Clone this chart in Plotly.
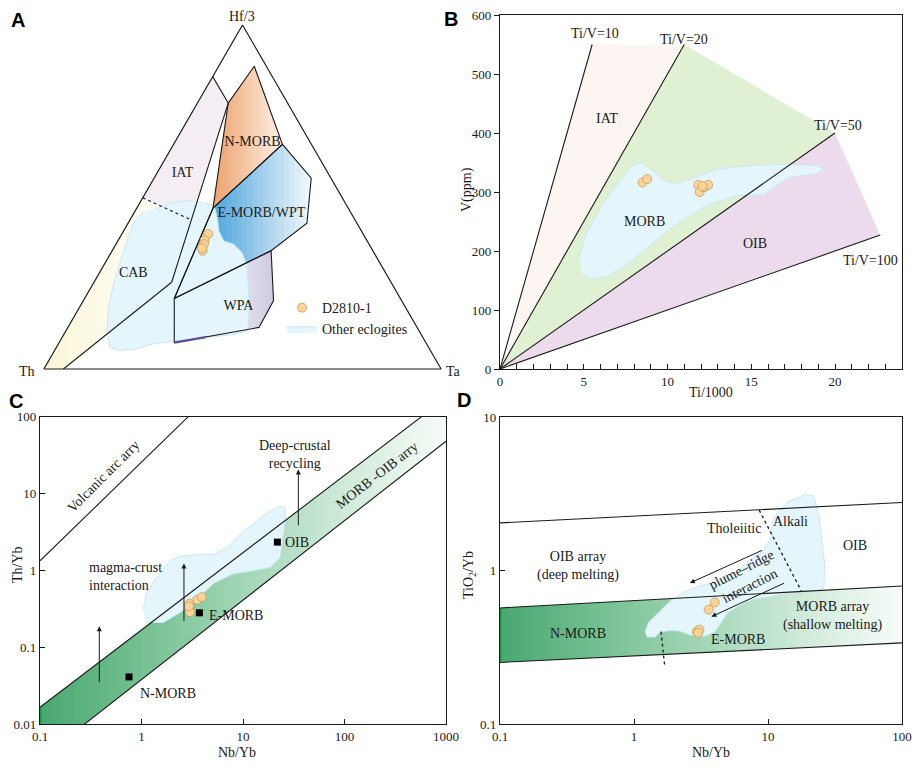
import math
import plotly.graph_objects as go

SERIF = "Liberation Serif"
SANS = "Liberation Sans"
INK = "#1a1a1a"

# ---------------- Panel A : Hf/3 - Th - Ta ternary (a = Hf/3, b = Th, c = Ta) ----------------
A_NMORB = [(0.773, 0.1495, 0.0775), (0.880, 0.0304, 0.0896), (0.653, 0.073, 0.274), (0.4675, 0.3405, 0.192)]
A_EMORB = [(0.4675, 0.3405, 0.192), (0.653, 0.073, 0.274), (0.5547, 0.0496, 0.3957),
           (0.4237, 0.126, 0.4503), (0.3438, 0.2561, 0.4001), (0.2052, 0.5692, 0.2256)]
A_WPA = [(0.2052, 0.5692, 0.2256), (0.3438, 0.2561, 0.4001), (0.1988, 0.3224, 0.4788),
         (0.1209, 0.3981, 0.481), (0.0768, 0.6333, 0.2899)]
A_IAT = [(0.85, 0.15, 0.0), (0.773, 0.1495, 0.0775), (0.433, 0.4117, 0.1553), (0.4976, 0.5024, 0.0)]
A_CAB = [(0.4976, 0.5024, 0.0), (0.433, 0.4117, 0.1553), (0.2522, 0.5522, 0.1956),
         (0.0, 0.9508, 0.0492), (0.0, 1.0, 0.0)]
A_LINE_TOP = [(0.85, 0.15, 0.0), (0.773, 0.1495, 0.0775)]
A_LINE_IAT = [(0.773, 0.1495, 0.0775), (0.2522, 0.5522, 0.1956)]
A_LINE_CAB = [(0.0, 0.9508, 0.0492), (0.2522, 0.5522, 0.1956)]
A_LINE_WPT = [(0.4675, 0.3405, 0.192), (0.2052, 0.5692, 0.2256)]
A_LINE_DOT = [(0.4976, 0.5024, 0.0), (0.433, 0.4117, 0.1553)]
A_WPA_BASE = [(0.0768, 0.6333, 0.2899), (0.0928, 0.5457, 0.3615)]
A_BLOB = [(0.4658, 0.4865, 0.0477), (0.4844, 0.4278, 0.0878), (0.4892, 0.3924, 0.1184),
          (0.4844, 0.3621, 0.1535), (0.4751, 0.334, 0.1909), (0.4377, 0.3445, 0.2178),
          (0.4001, 0.3592, 0.2407), (0.3719, 0.3611, 0.267), (0.3627, 0.341, 0.2963),
          (0.3393, 0.3322, 0.3285), (0.3064, 0.3363, 0.3573), (0.2409, 0.3651, 0.394),
          (0.1751, 0.3955, 0.4294), (0.1237, 0.4238, 0.4525), (0.1096, 0.4349, 0.4555),
          (0.1004, 0.4724, 0.4272), (0.0815, 0.6294, 0.2891), (0.0723, 0.6915, 0.2362),
          (0.0582, 0.7395, 0.2023), (0.0534, 0.7827, 0.1639), (0.0627, 0.8027, 0.1346),
          (0.1096, 0.7861, 0.1043), (0.1751, 0.7506, 0.0743), (0.2409, 0.7055, 0.0536),
          (0.3064, 0.6562, 0.0374), (0.3627, 0.6117, 0.0256), (0.4189, 0.5671, 0.014),
          (0.4563, 0.5238, 0.0199)]
A_SAMPLES = [(0.3927, 0.39, 0.2173), (0.3739, 0.4083, 0.2178), (0.3627, 0.4156, 0.2217),
             (0.3438, 0.4283, 0.2279), (0.3514, 0.4262, 0.2224)]
A_LABELS = ["N-MORB", "IAT", "E-MORB/WPT", "CAB", "WPA"]
A_LABEL_POS = [(0.6579, 0.1457, 0.1964), (0.5687, 0.3666, 0.0647), (0.4518, 0.2266, 0.3216),
               (0.2783, 0.6358, 0.0859), (0.1827, 0.4189, 0.3984)]
A_APEX_NAMES = ["Hf/3", "Th", "Ta"]

# ---------------- Panel B : Ti/1000 vs V ----------------
B_TIV_RATIO = [10, 20, 50, 100]
B_TIV_XEND = [5.5, 11.0, 20.0, 22.7]
B_TIV_LABEL_X = [5.7, 11.0, 20.16, 22.1]
B_TIV_LABEL_Y = [569, 558, 412, 184]
B_IAT_X = [0, 5.5, 11.0]
B_IAT_Y = [0, 550, 550]
B_MORB_X = [0, 11.0, 20.0]
B_MORB_Y = [0, 550, 400]
B_OIB_X = [0, 20.0, 22.7]
B_OIB_Y = [0, 400, 227]
B_BLOB_X = [4.72, 5.11, 6.10, 7.28, 7.87, 8.46, 9.24, 9.64, 10.42, 11.41, 12.98, 14.95, 17.31, 18.88,
            19.37, 18.88, 17.31, 16.52, 15.73, 14.35, 13.37, 12.39, 11.41, 10.22, 9.04, 7.87, 6.49, 5.51, 4.92]
B_BLOB_Y = [188, 227, 278, 322, 345, 350, 334, 322, 314, 322, 339, 345, 347, 345,
            339, 331, 325, 311, 295, 295, 286, 278, 261, 239, 211, 183, 158, 152, 160]
B_SAMPLE_X = [8.51, 8.79, 11.84, 11.92, 12.19, 12.43, 12.09]
B_SAMPLE_Y = [316, 322, 312, 300, 308, 312, 310]
B_FIELD_LABELS = ["IAT", "MORB", "OIB"]
B_FIELD_X = [6.39, 8.6, 15.2]
B_FIELD_Y = [424, 250, 212]

# ---------------- Panel C : Nb/Yb vs Th/Yb ----------------
C_UPPER = [(0.1, 0.0165), (1000, 175)]
C_LOWER = [(0.1, 0.0035), (1000, 48)]
C_ARC = [(0.1, 1.33), (2.89, 100)]
C_BLOB_X = [1.04, 1.12, 1.41, 1.91, 2.39, 3.77, 5.09, 6.90, 10.1, 15.8, 21.5, 25.9, 25.9, 24.6,
            23.2, 18.5, 12.6, 8.02, 5.09, 3.77, 2.39, 1.64, 1.12]
C_BLOB_Y = [0.309, 0.50, 0.815, 1.33, 1.53, 1.61, 1.61, 1.95, 3.18, 5.17, 6.59, 6.79, 4.26, 2.38,
            1.46, 1.09, 0.987, 0.90, 0.673, 0.455, 0.281, 0.21, 0.21]
C_SAMPLE_X = [2.96, 2.96, 3.0, 3.55, 3.92, 2.94]
C_SAMPLE_Y = [0.368, 0.315, 0.286, 0.414, 0.448, 0.341]
C_REF_NAMES = ["N-MORB", "E-MORB", "OIB"]
C_REF_X = [0.753, 3.72, 21.8]
C_REF_Y = [0.041, 0.28, 2.33]
C_REF_LABEL_X = [1.81, 8.47, 33.8]
C_REF_LABEL_Y = [0.0252, 0.26, 2.33]
C_ARROW_X = [0.384, 2.62, 35.1]
C_ARROW_Y0 = [0.0337, 0.209, 3.68]
C_ARROW_Y1 = [0.187, 1.23, 20.6]

# ---------------- Panel D : Nb/Yb vs TiO2/Yb ----------------
D_OIB_LINE = [(0.1, 2.05), (100, 2.78)]
D_UPPER = [(0.1, 0.571), (100, 0.795)]
D_LOWER = [(0.1, 0.252), (100, 0.338)]
D_DOT1 = [(8.59, 2.48), (17.7, 0.740)]
D_DOT2 = [(1.59, 0.40), (1.69, 0.244)]
D_BLOB_X = [1.21, 1.28, 1.52, 1.91, 2.40, 3.18, 4.23, 5.94, 7.45, 9.35, 10.5, 10.8, 11.7, 13.9, 19.0,
            21.9, 23.9, 25.3, 26.7, 26.0, 23.2, 18.5, 13.9, 9.91, 7.45, 5.94, 5.01, 4.47, 4.0, 3.37,
            2.69, 2.14, 1.80, 1.57, 1.44, 1.25]
D_BLOB_Y = [0.397, 0.459, 0.531, 0.645, 0.728, 0.803, 0.843, 1.0, 1.19, 1.37, 1.63, 2.07, 2.40, 2.78, 3.14,
            3.06, 2.29, 1.55, 1.05, 0.766, 0.74, 0.74, 0.711, 0.678, 0.645, 0.585, 0.531, 0.459, 0.397, 0.374,
            0.378, 0.406, 0.406, 0.397, 0.369, 0.369]
D_SAMPLE_X = [3.61, 4.0, 2.94, 3.08, 3.01]
D_SAMPLE_Y = [0.557, 0.621, 0.40, 0.412, 0.393]
D_ARROW_TAIL = [(9.25, 1.37), (13.5, 0.836)]
D_ARROW_HEAD = [(2.61, 0.83), (3.78, 0.501)]
D_LABELS = ["OIB array<br>(deep melting)", "N-MORB", "E-MORB", "MORB array<br>(shallow melting)",
            "Tholeiitic", "Alkali", "OIB"]
D_LABEL_X = [0.38, 0.38, 5.94, 30.3, 5.61, 14.7, 44.5]
D_LABEL_Y = [1.08, 0.387, 0.356, 0.506, 1.88, 2.10, 1.46]

# ---------------- styles ----------------
SAMPLE_FILL = "rgb(250,212,152)"
SAMPLE_EDGE = "rgb(200,155,95)"
BLOB_FILL = "rgb(228,246,252)"
BLOB_EDGE = "rgb(200,232,244)"
GREEN_STOPS = [(0, (72, 168, 112)), (0.25, (118, 192, 146)), (0.5, (162, 214, 182)),
               (0.75, (207, 234, 217)), (1, (248, 252, 249))]
NMORB_STOPS = [(0, (236, 160, 110)), (0.5, (245, 200, 165)), (1, (253, 240, 232))]
EMORB_STOPS = [(0, (70, 160, 218)), (0.35, (90, 172, 224)), (0.7, (175, 213, 238)), (1, (240, 248, 252))]
WPA_STOPS = [(0, (245, 245, 250)), (0.6, (234, 231, 242)), (1, (208, 202, 226))]
CAB_STOPS = [(0, (250, 247, 215)), (0.6, (253, 252, 240)), (1, (255, 255, 255))]

# page layout helpers: the page body keeps an 8 px margin round the figure,
# so the figure is sized to fit the 920x769 window without scrollbars.
OFF = 8
FW, FH = 920 - 2 * OFF, 769 - 2 * OFF


def px(p):
    return (p - OFF) / FW


def py(p):
    return 1 - (p - OFF) / FH


def color_at(stops, t):
    for (t0, c0), (t1, c1) in zip(stops[:-1], stops[1:]):
        if t <= t1:
            f = (t - t0) / (t1 - t0) if t1 > t0 else 0
            return "rgb(%d,%d,%d)" % tuple(round(c0[k] + f * (c1[k] - c0[k])) for k in range(3))
    return "rgb(%d,%d,%d)" % stops[-1][1]


def tern(pts, **kw):
    return go.Scatterternary(a=[p[0] for p in pts], b=[p[1] for p in pts], c=[p[2] for p in pts],
                             subplot="ternary", hoverinfo="skip", **kw)


def clip_half(pts, lim, keep_greater):
    out = []
    for i in range(len(pts)):
        cur, prev = pts[i], pts[i - 1]
        cin = cur[0] >= lim if keep_greater else cur[0] <= lim
        pin = prev[0] >= lim if keep_greater else prev[0] <= lim
        if cin != pin:
            t = (lim - prev[0]) / (cur[0] - prev[0])
            out.append((lim, prev[1] + t * (cur[1] - prev[1])))
        if cin:
            out.append(cur)
    return out


def tern_gradient(poly, stops, n=26):
    pts = [(c + a / 2.0, a) for a, b, c in poly]
    xs = [p[0] for p in pts]
    x0, x1 = min(xs), max(xs)
    traces = []
    for i in range(n):
        lo = x0 + (x1 - x0) * i / n - 0.002
        hi = x0 + (x1 - x0) * (i + 1) / n + 0.002
        cl = clip_half(clip_half(pts, lo, True), hi, False)
        if len(cl) < 3:
            continue
        tri = []
        for x, a in cl:
            c = max(0.0, x - a / 2.0)
            b = max(0.0, 1 - a - c)
            tri.append((a, b, c))
        traces.append(tern(tri, mode="lines", fill="toself", line=dict(width=0),
                           fillcolor=color_at(stops, (i + 0.5) / n), showlegend=False))
    return traces


def loglog_line(p0, p1):
    lx0, ly0, lx1, ly1 = math.log10(p0[0]), math.log10(p0[1]), math.log10(p1[0]), math.log10(p1[1])
    return lambda lx: ly0 + (ly1 - ly0) * (lx - lx0) / (lx1 - lx0)


def band_gradient(upper, lower, stops, xa, ya, n=60):
    fu, fl = loglog_line(*upper), loglog_line(*lower)
    l0, l1 = math.log10(upper[0][0]), math.log10(upper[1][0])
    step = (l1 - l0) / n
    traces = []
    for i in range(n):
        a = l0 + i * step
        b = min(l1, a + step * 1.3)
        xs = [10 ** a, 10 ** b, 10 ** b, 10 ** a]
        ys = [10 ** fu(a), 10 ** fu(b), 10 ** fl(b), 10 ** fl(a)]
        traces.append(go.Scatter(x=xs, y=ys, mode="lines", fill="toself", line=dict(width=0),
                                 fillcolor=color_at(stops, (i + 0.5) / n), xaxis=xa, yaxis=ya,
                                 hoverinfo="skip", showlegend=False))
    return traces


def line_xy(pts, xa, ya, dash="solid", width=1.1, color=INK):
    return go.Scatter(x=[p[0] for p in pts], y=[p[1] for p in pts], mode="lines",
                      line=dict(color=color, width=width, dash=dash), xaxis=xa, yaxis=ya,
                      hoverinfo="skip", showlegend=False)


fig = go.Figure()

# ---------- A ----------
for tr in tern_gradient(A_CAB, CAB_STOPS):
    fig.add_trace(tr)
fig.add_trace(tern(A_IAT, mode="lines", fill="toself", line=dict(width=0), fillcolor="rgb(244,238,244)",
                   showlegend=False))
for poly, st in [(A_NMORB, NMORB_STOPS), (A_EMORB, EMORB_STOPS), (A_WPA, WPA_STOPS)]:
    for tr in tern_gradient(poly, st):
        fig.add_trace(tr)
fig.add_trace(tern(A_BLOB, mode="lines", fill="toself", line=dict(width=1, color=BLOB_EDGE),
                   fillcolor=BLOB_FILL, name="Other eclogites", legendrank=2, showlegend=True))
for poly in [A_NMORB, A_EMORB, A_WPA]:
    fig.add_trace(tern(poly + [poly[0]], mode="lines", line=dict(color=INK, width=1.1), showlegend=False))
for ln in [A_LINE_TOP, A_LINE_IAT, A_LINE_CAB, A_LINE_WPT]:
    fig.add_trace(tern(ln, mode="lines", line=dict(color=INK, width=1.1), showlegend=False))
fig.add_trace(tern(A_LINE_DOT, mode="lines", line=dict(color=INK, width=1.2, dash="dot"), showlegend=False))
fig.add_trace(tern(A_WPA_BASE, mode="lines", line=dict(color="rgb(95,80,150)", width=2.2), showlegend=False))
fig.add_trace(tern(A_SAMPLES, mode="markers", name="D2810-1", legendrank=1, showlegend=True,
                   marker=dict(size=9, color=SAMPLE_FILL, line=dict(color=SAMPLE_EDGE, width=0.8))))
fig.add_trace(tern(A_LABEL_POS, mode="text", text=A_LABELS, showlegend=False,
                   textfont=dict(family=SERIF, size=14, color=INK)))

# ---------- B ----------
fig.add_trace(go.Scatter(x=B_IAT_X, y=B_IAT_Y, fill="toself", mode="lines", line=dict(width=0),
                         fillcolor="rgb(253,245,241)", xaxis="x", yaxis="y", hoverinfo="skip", showlegend=False))
fig.add_trace(go.Scatter(x=B_MORB_X, y=B_MORB_Y, fill="toself", mode="lines", line=dict(width=0),
                         fillcolor="rgb(224,241,211)", xaxis="x", yaxis="y", hoverinfo="skip", showlegend=False))
fig.add_trace(go.Scatter(x=B_OIB_X, y=B_OIB_Y, fill="toself", mode="lines", line=dict(width=0),
                         fillcolor="rgb(236,219,236)", xaxis="x", yaxis="y", hoverinfo="skip", showlegend=False))
fig.add_trace(go.Scatter(x=B_BLOB_X, y=B_BLOB_Y, fill="toself", mode="lines", line=dict(width=1, color=BLOB_EDGE),
                         fillcolor=BLOB_FILL, xaxis="x", yaxis="y", hoverinfo="skip", showlegend=False))
for r, xe in zip(B_TIV_RATIO, B_TIV_XEND):
    fig.add_trace(line_xy([(0, 0), (xe, xe * 1000.0 / r)], "x", "y"))
fig.add_trace(go.Scatter(x=B_SAMPLE_X, y=B_SAMPLE_Y, mode="markers", xaxis="x", yaxis="y", showlegend=False,
                         marker=dict(size=9, color=SAMPLE_FILL, line=dict(color=SAMPLE_EDGE, width=0.8))))

# ---------- C ----------
for tr in band_gradient(C_UPPER, C_LOWER, GREEN_STOPS, "x2", "y2"):
    fig.add_trace(tr)
fig.add_trace(line_xy([(C_UPPER[0][0], C_LOWER[0][1]), C_UPPER[0]], "x2", "y2", width=3, color="rgb(25,150,65)"))
fig.add_trace(go.Scatter(x=C_BLOB_X, y=C_BLOB_Y, fill="toself", mode="lines", line=dict(width=1, color=BLOB_EDGE),
                         fillcolor=BLOB_FILL, xaxis="x2", yaxis="y2", hoverinfo="skip", showlegend=False))
for ln in [C_UPPER, C_LOWER, C_ARC]:
    fig.add_trace(line_xy(ln, "x2", "y2"))
fig.add_trace(go.Scatter(x=C_SAMPLE_X, y=C_SAMPLE_Y, mode="markers", xaxis="x2", yaxis="y2", showlegend=False,
                         marker=dict(size=9, color=SAMPLE_FILL, line=dict(color=SAMPLE_EDGE, width=0.8))))
fig.add_trace(go.Scatter(x=C_REF_X, y=C_REF_Y, mode="markers", xaxis="x2", yaxis="y2", showlegend=False,
                         marker=dict(size=7, symbol="square", color="black")))

# ---------- D ----------
for tr in band_gradient(D_UPPER, D_LOWER, GREEN_STOPS, "x3", "y3"):
    fig.add_trace(tr)
fig.add_trace(line_xy([D_LOWER[0], D_UPPER[0]], "x3", "y3", width=3, color="rgb(25,150,65)"))
fig.add_trace(go.Scatter(x=D_BLOB_X, y=D_BLOB_Y, fill="toself", mode="lines", line=dict(width=1, color=BLOB_EDGE),
                         fillcolor=BLOB_FILL, xaxis="x3", yaxis="y3", hoverinfo="skip", showlegend=False))
for ln in [D_OIB_LINE, D_UPPER, D_LOWER]:
    fig.add_trace(line_xy(ln, "x3", "y3"))
for ln in [D_DOT1, D_DOT2]:
    fig.add_trace(line_xy(ln, "x3", "y3", dash="dot", width=1.3))
fig.add_trace(go.Scatter(x=D_SAMPLE_X, y=D_SAMPLE_Y, mode="markers", xaxis="x3", yaxis="y3", showlegend=False,
                         marker=dict(size=9, color=SAMPLE_FILL, line=dict(color=SAMPLE_EDGE, width=0.8))))

# ---------- annotations ----------
ann = []
TF = dict(family=SERIF, size=14, color=INK)


def L(v):
    return math.log10(v)


# B texts
for txt, x, y in zip(["Ti/V=%d" % r for r in B_TIV_RATIO], B_TIV_LABEL_X, B_TIV_LABEL_Y):
    ann.append(dict(x=x, y=y, xref="x", yref="y", text=txt, showarrow=False, font=TF))
for txt, x, y in zip(B_FIELD_LABELS, B_FIELD_X, B_FIELD_Y):
    ann.append(dict(x=x, y=y, xref="x", yref="y", text=txt, showarrow=False, font=TF))

# C texts
ann.append(dict(x=L(0.42), y=L(16.6), xref="x2", yref="y2", text="Volcanic arc arry", textangle=-45,
                showarrow=False, font=TF))
ann.append(dict(x=L(207), y=L(17.4), xref="x2", yref="y2", text="MORB -OIB arry", textangle=-38,
                showarrow=False, font=TF))
ann.append(dict(x=L(32.5), y=L(31.8), xref="x2", yref="y2", text="Deep-crustal<br>recycling",
                showarrow=False, font=TF))
ann.append(dict(x=L(0.70), y=L(0.83), xref="x2", yref="y2", text="magma-crust<br>interaction", align="left",
                showarrow=False, font=TF))
for txt, x, y in zip(C_REF_NAMES, C_REF_LABEL_X, C_REF_LABEL_Y):
    ann.append(dict(x=L(x), y=L(y), xref="x2", yref="y2", text=txt, showarrow=False, font=TF))
for x, y0, y1 in zip(C_ARROW_X, C_ARROW_Y0, C_ARROW_Y1):
    ann.append(dict(x=L(x), y=L(y1), ax=L(x), ay=L(y0), xref="x2", yref="y2", axref="x2", ayref="y2",
                    text="", showarrow=True, arrowhead=2, arrowsize=1, arrowwidth=1, arrowcolor=INK))

# D texts
for txt, x, y in zip(D_LABELS, D_LABEL_X, D_LABEL_Y):
    ann.append(dict(x=L(x), y=L(y), xref="x3", yref="y3", text=txt, showarrow=False, font=TF))
ann.append(dict(x=L(6.84), y=L(0.907), xref="x3", yref="y3", text="plume–ridge<br>interaction",
                textangle=-27, showarrow=False, font=TF))
for (tx, ty), (hx, hy) in zip(D_ARROW_TAIL, D_ARROW_HEAD):
    ann.append(dict(x=L(hx), y=L(hy), ax=L(tx), ay=L(ty), xref="x3", yref="y3", axref="x3", ayref="y3",
                    text="", showarrow=True, arrowhead=2, arrowsize=1, arrowwidth=1, arrowcolor=INK))


# ternary corner names, axis titles + panel letters (paper, centred on the given page pixel)
def paper_text(x, y, txt, font, angle=0):
    return dict(x=px(x), y=py(y), xref="paper", yref="paper", xanchor="center", yanchor="middle",
                text=txt, textangle=angle, showarrow=False, font=font)


PF = dict(family=SERIF, size=14, color=INK)
for txt, (x, y) in zip(A_APEX_NAMES, [(242, 17), (27, 371), (453, 371)]):
    ann.append(paper_text(x, y, txt, PF))
ann += [
    paper_text(711, 392, "Ti/1000", PF),
    paper_text(467, 190, "V(ppm)", PF, -90),
    paper_text(237, 752, "Nb/Yb", PF),
    paper_text(17, 565, "Th/Yb", PF, -90),
    paper_text(711, 752, "Nb/Yb", PF),
    paper_text(469, 575, "TiO<sub>2</sub>/Yb", PF, -90),
]
LF = dict(family=SANS, size=20, color="black")
for letter, x, y in [("A", 18, 20), ("B", 451, 19), ("C", 16, 401), ("D", 464, 400)]:
    ann.append(paper_text(x, y, "<b>%s</b>" % letter, LF))

TICKF = dict(family=SERIF, size=13, color=INK)


def tern_axis():
    return dict(title=dict(text=""), showticklabels=False, ticks="", showgrid=False,
                linecolor=INK, linewidth=1.2, min=0)


box = dict(showline=True, mirror=True, linecolor=INK, linewidth=1.2, showgrid=False, zeroline=False,
           tickfont=TICKF, tickcolor=INK, automargin=False, ticklabeloverflow="allow")

fig.update_layout(
    template="none",
    width=FW, height=FH, margin=dict(l=0, r=0, t=0, b=0, autoexpand=False),
    paper_bgcolor="white", plot_bgcolor="white",
    ternary=dict(domain=dict(x=[px(39.3), px(445.7)], y=[py(369), py(25)]), sum=1, bgcolor="white",
                 aaxis=tern_axis(), baxis=tern_axis(), caxis=tern_axis()),
    xaxis=dict(domain=[px(500), px(902)], anchor="y", range=[0, 24], tickvals=[0, 5, 10, 15, 20],
               ticks="inside", ticklen=5, minor=dict(dtick=1, ticks="inside", ticklen=5, tickcolor=INK,
                                                     showgrid=False), **box),
    yaxis=dict(domain=[py(369), py(15)], anchor="x", range=[0, 600], tickvals=[0, 100, 200, 300, 400, 500, 600],
               ticks="outside", ticklen=5, **box),
    xaxis2=dict(domain=[px(40), px(446)], anchor="y2", type="log", range=[-1, 3],
                tickvals=[0.1, 1, 10, 100, 1000], ticktext=["0.1", "1", "10", "100", "1000"],
                ticks="inside", ticklen=5, **box),
    yaxis2=dict(domain=[py(724), py(416.7)], anchor="x2", type="log", range=[-2, 2],
                tickvals=[0.01, 0.1, 1, 10, 100], ticktext=["0.01", "0.1", "1", "10", "100"],
                ticks="inside", ticklen=5, **box),
    xaxis3=dict(domain=[px(500), px(902)], anchor="y3", type="log", range=[-1, 2],
                tickvals=[0.1, 1, 10, 100], ticktext=["0.1", "1", "10", "100"],
                ticks="inside", ticklen=5, **box),
    yaxis3=dict(domain=[py(724), py(417.3)], anchor="x3", type="log", range=[-1, 1],
                tickvals=[0.1, 1, 10], ticktext=["0.1", "1", "10"], ticks="inside", ticklen=5, **box),
    showlegend=True,
    legend=dict(x=px(282), y=py(292), xanchor="left", yanchor="top", bgcolor="rgba(0,0,0,0)",
                font=dict(family=SERIF, size=14, color=INK), traceorder="normal", itemwidth=30,
                tracegroupgap=0),
    annotations=ann,
)

fig.write_html("out.html")
